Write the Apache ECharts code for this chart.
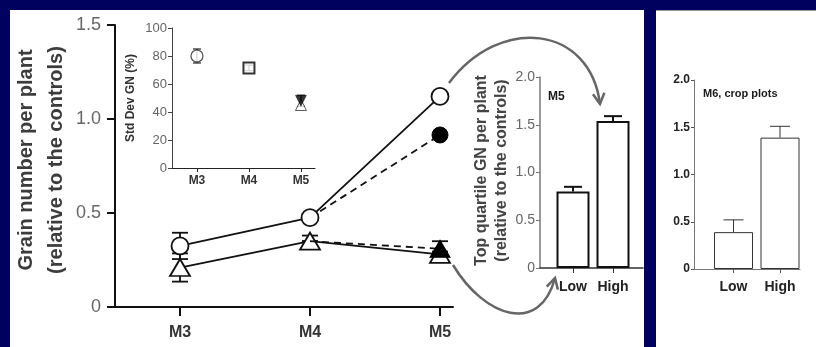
<!DOCTYPE html>
<html>
<head>
<meta charset="utf-8">
<script src="https://cdn.jsdelivr.net/npm/echarts@6/dist/echarts.min.js"></script>
<style>html,body{margin:0;padding:0;background:#fff;}#c{width:816px;height:347px;}</style>
</head>
<body>
<div id="c"></div>
<script>
// ---- data ----
const mainCats = ['M3', 'M4', 'M5'];
const openCircle = [0.325, 0.475, 1.12];
const openCircleErr = [0.07, 0.015, 0.015];
const filledCircle = [null, 0.475, 0.915];
const openTriangle = [0.21, 0.35, 0.28];
const openTriangleErr = [0.075, 0.03, 0.015];
const filledTriangle = [null, 0.35, 0.31];
const filledTriangleErr = [null, 0.0, 0.04];

const insetCats = ['M3', 'M4', 'M5'];
const insetCircle = [80, null, null];
const insetCircleErr = [5, null, null];
const insetSquare = [null, 71.5, null];
const insetSquareErr = [null, 2, null];
const insetTriangle = [null, null, 45];
const insetInvTriangle = [null, null, 48];
const insetM5Err = [null, null, 4];

const m5Cats = ['Low', 'High'];
const m5Values = [0.80, 1.54];
const m5Err = [0.05, 0.05];

const m6Cats = ['Low', 'High'];
const m6Values = [0.39, 1.39];
const m6Err = [0.13, 0.12];

// ---- helpers ----
const FONT = '"Liberation Sans", Arial, sans-serif';
function pts(arr) { const out = []; arr.forEach((v, i) => { if (v !== null) out.push([i, v]); }); return out; }
function errPts(vals, errs) { const out = []; vals.forEach((v, i) => { if (v !== null && errs[i] !== null) out.push([i, v, v - errs[i], v + errs[i]]); }); return out; }
function errBar(xi, yi, capW, color, lw, upperOnly) {
  return {
    type: 'custom', xAxisIndex: xi, yAxisIndex: yi, z: 3,
    renderItem: function (params, api) {
      const x = api.value(0), lo = api.value(2), hi = api.value(3), v = api.value(1);
      const top = api.coord([x, hi]);
      const bot = api.coord([x, upperOnly ? v : lo]);
      const children = [
        { type: 'line', shape: { x1: top[0], y1: top[1], x2: bot[0], y2: bot[1] }, style: { stroke: color, lineWidth: lw } },
        { type: 'line', shape: { x1: top[0] - capW, y1: top[1], x2: top[0] + capW, y2: top[1] }, style: { stroke: color, lineWidth: lw } }
      ];
      if (!upperOnly) children.push({ type: 'line', shape: { x1: bot[0] - capW, y1: bot[1], x2: bot[0] + capW, y2: bot[1] }, style: { stroke: color, lineWidth: lw } });
      return { type: 'group', children: children };
    }
  };
}
function tickFmt(v) { return v === 0 ? '0' : v.toFixed(1); }

const chart = echarts.init(document.getElementById('c'), null, { renderer: 'canvas' });

function arrowHead(tip, from, len, spread) {
  const ang = Math.atan2(tip[1] - from[1], tip[0] - from[0]);
  const a1 = ang + Math.PI - spread, a2 = ang + Math.PI + spread;
  return [[tip[0] + len * Math.cos(a1), tip[1] + len * Math.sin(a1)], tip, [tip[0] + len * Math.cos(a2), tip[1] + len * Math.sin(a2)]];
}
const arrowColor = '#666666';
const a1 = { x1: 449, y1: 83, cpx1: 500, cpy1: 15, cpx2: 590, cpy2: 25, x2: 600, y2: 104 };
const a2 = { x1: 453, y1: 265, cpx1: 485, cpy1: 318, cpx2: 540, cpy2: 335, x2: 555, y2: 278 };

const gridBase = { outerBoundsMode: 'none', containLabel: false };

const option = {
  backgroundColor: '#ffffff',
  animation: false,
  textStyle: { fontFamily: FONT },
  graphic: [
    { type: 'rect', shape: { x: 0, y: 0, width: 816, height: 10 }, style: { fill: '#00005f' }, silent: true },
    { type: 'rect', shape: { x: 0, y: 0, width: 10, height: 347 }, style: { fill: '#00005f' }, silent: true },
    { type: 'rect', shape: { x: 644, y: 0, width: 12, height: 347 }, style: { fill: '#00005f' }, silent: true },
    { type: 'rect', shape: { x: 656, y: 10, width: 160, height: 1 }, style: { fill: '#9a9a9a' }, silent: true },
    { type: 'bezierCurve', shape: a1, style: { stroke: arrowColor, lineWidth: 2.5, fill: null }, z: 100, silent: true },
    { type: 'polyline', shape: { points: arrowHead([a1.x2, a1.y2], [a1.cpx2, a1.cpy2], 12, 0.5) }, style: { stroke: arrowColor, lineWidth: 2.5, fill: null }, z: 100, silent: true },
    { type: 'bezierCurve', shape: a2, style: { stroke: arrowColor, lineWidth: 2.5, fill: null }, z: 100, silent: true },
    { type: 'polyline', shape: { points: arrowHead([a2.x2, a2.y2], [a2.cpx2, a2.cpy2], 12, 0.5) }, style: { stroke: arrowColor, lineWidth: 2.5, fill: null }, z: 100, silent: true },
    { type: 'text', left: 548, top: 91, style: { text: 'M5', font: 'bold 12px ' + FONT, fill: '#1a1a1a' }, z: 100 },
    { type: 'text', left: 703, top: 88, style: { text: 'M6, crop plots', font: 'bold 11px ' + FONT, fill: '#1a1a1a' }, z: 100 }
  ],
  grid: [
    Object.assign({ left: 115, top: 25, width: 338, height: 282 }, gridBase),
    Object.assign({ left: 172, top: 28, width: 143, height: 140 }, gridBase),
    Object.assign({ left: 540, top: 77, width: 103, height: 191 }, gridBase),
    Object.assign({ left: 694, top: 80, width: 106, height: 189 }, gridBase)
  ],
  xAxis: [
    {
      gridIndex: 0, type: 'value', min: -0.5, max: 2.1,
      axisLine: { onZero: false, lineStyle: { color: '#111', width: 2 } },
      axisTick: { show: true, customValues: [0, 1, 2], length: 9, lineStyle: { color: '#111', width: 2 } },
      axisLabel: { customValues: [0, 1, 2], formatter: v => mainCats[Math.round(v)], margin: 18, fontSize: 16, fontWeight: 'bold', color: '#333', fontFamily: FONT },
      splitLine: { show: false }
    },
    {
      gridIndex: 1, type: 'value', min: -0.48, max: 2.27,
      axisLine: { onZero: false, lineStyle: { color: '#222', width: 1 } },
      axisTick: { show: true, customValues: [0, 1, 2], length: 4, lineStyle: { color: '#222' } },
      axisLabel: { customValues: [0, 1, 2], formatter: v => insetCats[Math.round(v)], margin: 7, fontSize: 12, fontWeight: 'bold', color: '#333', fontFamily: FONT },
      splitLine: { show: false }
    },
    {
      gridIndex: 2, type: 'value', min: -0.825, max: 1.75,
      axisLine: { onZero: false, lineStyle: { color: '#333', width: 1.5 } },
      axisTick: { show: true, customValues: [0, 1], length: 5, lineStyle: { color: '#333' } },
      axisLabel: { customValues: [0, 1], formatter: v => m5Cats[Math.round(v)], margin: 12, fontSize: 14, fontWeight: 'bold', color: '#222', fontFamily: FONT },
      splitLine: { show: false }
    },
    {
      gridIndex: 3, type: 'value', min: -0.85, max: 1.43,
      axisLine: { onZero: false, lineStyle: { color: '#777', width: 1 } },
      axisTick: { show: true, customValues: [0, 1], length: 4, lineStyle: { color: '#555' } },
      axisLabel: { customValues: [0, 1], formatter: v => m6Cats[Math.round(v)], margin: 11, fontSize: 14, fontWeight: 'bold', color: '#222', fontFamily: FONT },
      splitLine: { show: false }
    }
  ],
  yAxis: [
    {
      gridIndex: 0, type: 'value', min: 0, max: 1.5, interval: 0.5,
      name: 'Grain number per plant\n(relative to the controls)', nameLocation: 'middle', nameGap: 44, nameRotate: 90,
      nameTextStyle: { fontSize: 20, fontWeight: 'bold', color: '#3c3c3c', lineHeight: 30, fontFamily: FONT, padding: [0, 0, 0, 12] },
      axisLine: { show: true, onZero: false, lineStyle: { color: '#111', width: 2 } },
      axisTick: { show: true, length: 8, lineStyle: { color: '#111', width: 2 } },
      axisLabel: { formatter: tickFmt, fontSize: 18, color: '#666', margin: 14, fontFamily: FONT },
      splitLine: { show: false }
    },
    {
      gridIndex: 1, type: 'value', min: 0, max: 100, interval: 20,
      name: 'Std Dev GN (%)', nameLocation: 'middle', nameGap: 35, nameRotate: 90,
      nameTextStyle: { fontSize: 12, fontWeight: 'bold', color: '#333', fontFamily: FONT },
      axisLine: { show: true, onZero: false, lineStyle: { color: '#444', width: 1 } },
      axisTick: { show: true, length: 4, lineStyle: { color: '#444' } },
      axisLabel: { fontSize: 13, color: '#666', margin: 5, fontFamily: FONT },
      splitLine: { show: false }
    },
    {
      gridIndex: 2, type: 'value', min: 0, max: 2.0, interval: 0.5,
      name: 'Top quartile GN per plant\n(relative to the controls)', nameLocation: 'middle', nameGap: 27, nameRotate: 90,
      nameTextStyle: { fontSize: 16, fontWeight: 'bold', color: '#444', lineHeight: 20, fontFamily: FONT, padding: [0, 0, 0, 4] },
      axisLine: { show: true, onZero: false, lineStyle: { color: '#777', width: 1.5 } },
      axisTick: { show: true, length: 4, lineStyle: { color: '#777' } },
      axisLabel: { formatter: tickFmt, fontSize: 14, color: '#666', margin: 5, fontFamily: FONT },
      splitLine: { show: false }
    },
    {
      gridIndex: 3, type: 'value', min: 0, max: 2.0, interval: 0.5,
      axisLine: { show: true, onZero: false, lineStyle: { color: '#777', width: 1 } },
      axisTick: { show: true, length: 3, lineStyle: { color: '#555' } },
      axisLabel: { formatter: tickFmt, fontSize: 12, fontWeight: 'bold', color: '#222', margin: 4, fontFamily: FONT },
      splitLine: { show: false }
    }
  ],
  series: [
    errBar(0, 0, 8, '#111', 1.8, false),
    errBar(0, 0, 8, '#111', 1.8, false),
    errBar(0, 0, 8, '#111', 1.8, false),
    {
      type: 'line', xAxisIndex: 0, yAxisIndex: 0, z: 4,
      data: pts(filledCircle).map((p, i) => i === 0 ? { value: p, symbol: 'none' } : p),
      symbol: 'circle', symbolSize: 16,
      lineStyle: { color: '#111', width: 1.8, type: [7, 5] },
      itemStyle: { color: '#000', borderColor: '#000', borderWidth: 1 }
    },
    {
      type: 'line', xAxisIndex: 0, yAxisIndex: 0, z: 5,
      data: pts(openCircle),
      symbol: 'circle', symbolSize: 17,
      lineStyle: { color: '#111', width: 1.8 },
      itemStyle: { color: '#fff', borderColor: '#111', borderWidth: 1.8 }
    },
    {
      type: 'line', xAxisIndex: 0, yAxisIndex: 0, z: 5,
      data: pts(openTriangle),
      symbol: 'triangle', symbolSize: [20, 17],
      lineStyle: { color: '#111', width: 1.8 },
      itemStyle: { color: '#fff', borderColor: '#111', borderWidth: 1.8 }
    },
    {
      type: 'line', xAxisIndex: 0, yAxisIndex: 0, z: 6,
      data: pts(filledTriangle).map((p, i) => i === 0 ? { value: p, symbol: 'none' } : p),
      symbol: 'triangle', symbolSize: [20, 17],
      lineStyle: { color: '#111', width: 1.8, type: [7, 5] },
      itemStyle: { color: '#000', borderColor: '#000', borderWidth: 1 }
    },
    errBar(1, 1, 4, '#222', 1.2, false),
    errBar(1, 1, 4, '#222', 1.2, false),
    errBar(1, 1, 4, '#222', 1.2, false),
    {
      type: 'scatter', xAxisIndex: 1, yAxisIndex: 1, z: 5, data: pts(insetCircle),
      symbol: 'circle', symbolSize: 12, itemStyle: { color: '#fff', borderColor: '#222', borderWidth: 1.2 }
    },
    {
      type: 'scatter', xAxisIndex: 1, yAxisIndex: 1, z: 5, data: pts(insetSquare),
      symbol: 'rect', symbolSize: 11, itemStyle: { color: '#fff', borderColor: '#000', borderWidth: 2 }
    },
    {
      type: 'scatter', xAxisIndex: 1, yAxisIndex: 1, z: 5, data: pts(insetTriangle),
      symbol: 'triangle', symbolSize: 11, itemStyle: { color: '#fff', borderColor: '#333', borderWidth: 1 }
    },
    {
      type: 'scatter', xAxisIndex: 1, yAxisIndex: 1, z: 6, data: pts(insetInvTriangle),
      symbol: 'triangle', symbolRotate: 180, symbolSize: 11, itemStyle: { color: '#000', borderColor: '#000', borderWidth: 0.5 }
    },
    {
      type: 'bar', xAxisIndex: 2, yAxisIndex: 2, z: 2,
      data: m5Values.map((v, i) => [i, v]), barWidth: 33,
      itemStyle: { color: '#fff', borderColor: '#111', borderWidth: 2 }
    },
    errBar(2, 2, 9, '#111', 2, true),
    {
      type: 'bar', xAxisIndex: 3, yAxisIndex: 3, z: 2,
      data: m6Values.map((v, i) => [i, v]), barWidth: 39,
      itemStyle: { color: '#fff', borderColor: '#333', borderWidth: 1 }
    },
    errBar(3, 3, 10, '#333', 1, true)
  ]
};

option.series[0].data = errPts(openTriangle, openTriangleErr);
option.series[1].data = errPts(filledTriangle, filledTriangleErr);
option.series[2].data = errPts(openCircle, openCircleErr);
option.series[7].data = errPts(insetCircle, insetCircleErr);
option.series[8].data = errPts(insetSquare, insetSquareErr);
option.series[9].data = errPts(insetInvTriangle, insetM5Err);
option.series[15].data = errPts(m5Values, m5Err);
option.series[17].data = errPts(m6Values, m6Err);

chart.setOption(option);
</script>
</body>
</html>
